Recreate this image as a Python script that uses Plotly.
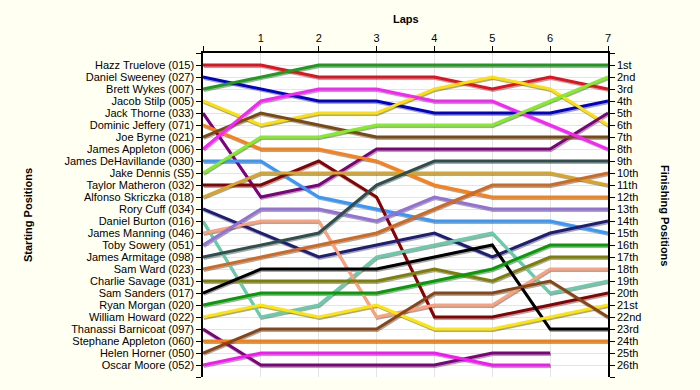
import plotly.graph_objects as go

laps = [0, 1, 2, 3, 4, 5, 6, 7]
lap_labels = ["", "1", "2", "3", "4", "5", "6", "7"]

drivers = [
    "Hazz Truelove (015)", "Daniel Sweeney (027)", "Brett Wykes (007)", "Jacob Stilp (005)",
    "Jack Thorne (033)", "Dominic Jeffery (071)", "Joe Byrne (021)", "James Appleton (006)",
    "James DeHavillande (030)", "Jake Dennis (S5)", "Taylor Matheron (032)", "Alfonso Skriczka (018)",
    "Rory Cuff (034)", "Daniel Burton (016)", "James Manning (046)", "Toby Sowery (051)",
    "James Armitage (098)", "Sam Ward (023)", "Charlie Savage (031)", "Sam Sanders (017)",
    "Ryan Morgan (020)", "William Howard (022)", "Thanassi Barnicoat (097)", "Stephane Appleton (060)",
    "Helen Horner (050)", "Oscar Moore (052)",
]

finish_labels = ["1st", "2nd", "3rd", "4th", "5th", "6th", "7th", "8th", "9th", "10th",
                 "11th", "12th", "13th", "14th", "15th", "16th", "17th", "18th", "19th", "20th",
                 "21st", "22nd", "23rd", "24th", "25th", "26th"]

# position of each driver at laps 0..7 (start order)
positions = [
    [1, 1, 2, 2, 2, 3, 2, 3],
    [2, 3, 4, 4, 5, 5, 5, 4],
    [3, 2, 1, 1, 1, 1, 1, 1],
    [4, 6, 5, 5, 3, 2, 3, 6],
    [5, 12, 11, 8, 8, 8, 8, 5],
    [6, 8, 8, 9, 11, 12, 12, 12],
    [7, 5, 6, 7, 7, 7, 7, 7],
    [8, 4, 3, 3, 4, 4, 6, 8],
    [9, 9, 12, 13, 14, 14, 14, 15],
    [10, 7, 7, 6, 6, 6, 4, 2],
    [11, 11, 9, 12, 22, 22, 21, 20],
    [12, 10, 10, 10, 10, 10, 10, 11],
    [13, 15, 17, 16, 15, 17, 15, 14],
    [14, 22, 21, 17, 16, 15, 20, 19],
    [15, 14, 14, 22, 21, 21, 18, 18],
    [16, 13, 13, 14, 12, 13, 13, 13],
    [17, 16, 15, 11, 9, 9, 9, 9],
    [18, 17, 16, 15, 13, 11, 11, 10],
    [19, 19, 19, 19, 18, 19, 17, 17],
    [20, 18, 18, 18, 17, 16, 23, 23],
    [21, 20, 20, 20, 19, 18, 16, 16],
    [22, 21, 22, 21, 23, 23, 22, 21],
    [23, 26, 26, 26, 26, 25, 25],
    [24, 24, 24, 24, 24, 24, 24, 24],
    [25, 23, 23, 23, 20, 20, 19, 22],
    [26, 25, 25, 25, 25, 26, 26],
]

colors = [
    "#e8101c", "#0000d0", "#1a9e1a", "#ffe000", "#800080", "#ff8010", "#7a4a10", "#ff20ff",
    "#3399ff", "#80f020", "#8b0000", "#daa520", "#1e1e78", "#66cdaa", "#ffa07a", "#9370db",
    "#2f4f4f", "#d2691e", "#808000", "#000000", "#00a000", "#ffe600", "#800080", "#ff8000",
    "#8b4513", "#ff10ff",
]

fig = go.Figure()

for name, pos, col in zip(drivers, positions, colors):
    xs = laps[:len(pos)]
    fig.add_trace(go.Scatter(x=[x + 0.015 for x in xs], y=[p + 0.12 for p in pos], mode="lines",
                             line=dict(color="rgba(60,60,60,0.45)", width=3),
                             hoverinfo="skip", showlegend=False))
for name, pos, col in zip(drivers, positions, colors):
    xs = laps[:len(pos)]
    fig.add_trace(go.Scatter(x=xs, y=pos, mode="lines", name=name,
                             line=dict(color=col, width=3), showlegend=False))

# dummy trace for right axis
fig.add_trace(go.Scatter(x=[0], y=[1], yaxis="y2", mode="markers",
                         marker=dict(opacity=0), hoverinfo="skip", showlegend=False))

font = dict(family="Liberation Sans, Arial, sans-serif", size=11, color="#000")
tfont = dict(family="Liberation Sans, Arial, sans-serif", size=11, color="#000")

fig.update_layout(
    width=700, height=390,
    paper_bgcolor="#fffff2",
    plot_bgcolor="#ffffff",
    margin=dict(l=203, r=92, t=53, b=13),
    font=font,
    xaxis=dict(range=[0, 7], side="top", tickvals=laps, ticktext=lap_labels,
               showgrid=True, gridcolor="#e4e4e4", gridwidth=1,
               showline=True, linecolor="#000", linewidth=1.5,
               ticks="outside", ticklen=5, tickcolor="#000", zeroline=False,
               tickfont=font),
    yaxis=dict(range=[27, 0], tickvals=list(range(0, 28)),
               ticktext=[""] + drivers + [""],
               showgrid=True, gridcolor="#e4e4e4", gridwidth=1,
               showline=True, linecolor="#000", linewidth=1.5,
               ticks="outside", ticklen=5, tickcolor="#000", zeroline=False,
               tickfont=font),
    yaxis2=dict(range=[27, 0], overlaying="y", side="right",
                tickvals=list(range(0, 28)), ticktext=[""] + finish_labels + [""],
                showgrid=False, showline=True, linecolor="#000", linewidth=1.5,
                ticks="outside", ticklen=5, tickcolor="#000", zeroline=False,
                tickfont=font),
)

fig.add_annotation(text="<b>Laps</b>", xref="paper", yref="paper", x=0.5, y=1.0, yshift=34,
                   xanchor="center", yanchor="middle", showarrow=False, font=tfont)
fig.add_annotation(text="<b>Starting Positions</b>", xref="paper", yref="paper", x=0, xshift=-175,
                   y=0.5, xanchor="center", yanchor="middle", textangle=-90, showarrow=False,
                   font=tfont)
fig.add_annotation(text="<b>Finishing Positions</b>", xref="paper", yref="paper", x=1, xshift=57,
                   y=0.5, xanchor="center", yanchor="middle", textangle=90, showarrow=False,
                   font=tfont)

fig.write_html("out.html", config={"displayModeBar": False},
               post_script="document.body.style.margin='0';document.body.style.background='#fffff2';")
